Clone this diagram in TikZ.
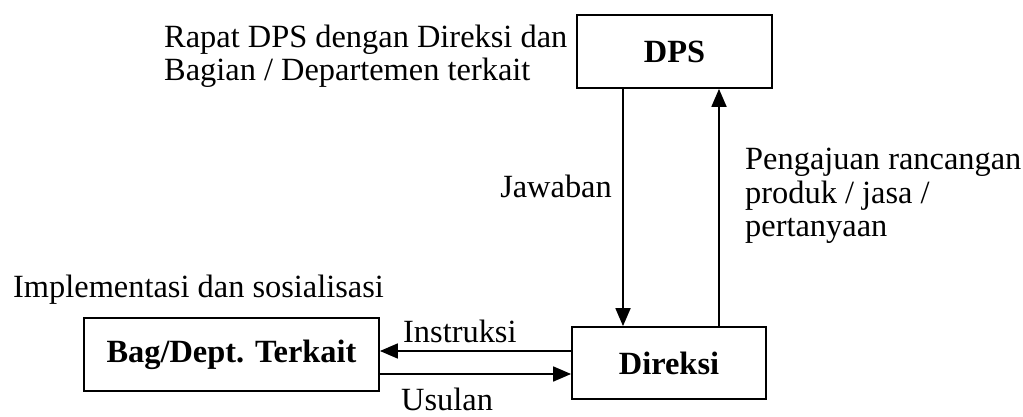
\documentclass[tikz,border=0pt]{standalone}
\usepackage{fontspec}
\setmainfont{Liberation Serif}
\usetikzlibrary{arrows.meta}
\newcommand\dfont{\fontsize{32.4pt}{38pt}\selectfont}
\begin{document}
\begin{tikzpicture}[x=1pt,y=-1pt,
  box/.style={draw, line width=1.8pt, rectangle, inner sep=0pt, font=\dfont\bfseries},
  lbl/.style={anchor=base west, inner sep=0pt, font=\dfont},
  arr/.style={line width=1.8pt, -{Triangle[length=18pt,width=15pt]}}]
\useasboundingbox (0,0) rectangle (1023,417);
% boxes
\node[box, minimum width=195pt, minimum height=73pt] (dps) at (674.5,51.5) {DPS};
\node[box, minimum width=194pt, minimum height=72pt] (dir) at (669,363) {Direksi};
\node[box, minimum width=295pt, minimum height=73pt] (bag) at (231.5,354.5) {Bag/Dept. Terkait};
% helper coordinates
\coordinate (jx) at (623,0);
\coordinate (px) at (719,0);
\coordinate (iy) at (0,351);
\coordinate (uy) at (0,374);
% connectors
\draw[arr] (jx |- dps.south) -- (jx |- dir.north);
\draw[arr] (px |- dir.north) -- (px |- dps.south);
\draw[arr] (dir.west |- iy) -- (bag.east |- iy);
\draw[arr] (bag.east |- uy) -- (dir.west |- uy);
% labels
\node[lbl] (r1) at (164,48) {Rapat DPS dengan Direksi dan};
\node[lbl] (r2) at (164,81) {Bagian / Departemen terkait};
\node[lbl, anchor=base east] (jaw) at (612,197) {Jawaban};
\node[lbl] (p1) at (745,170) {Pengajuan rancangan};
\node[lbl] (p2) at (745,203) {produk / jasa /};
\node[lbl] (p3) at (745,236) {pertanyaan};
\node[lbl] (impl) at (13,297) {Implementasi dan sosialisasi};
\node[lbl] (ins) at (403,342) {Instruksi};
\node[lbl] (usu) at (401,410) {Usulan};
\end{tikzpicture}
\end{document}
